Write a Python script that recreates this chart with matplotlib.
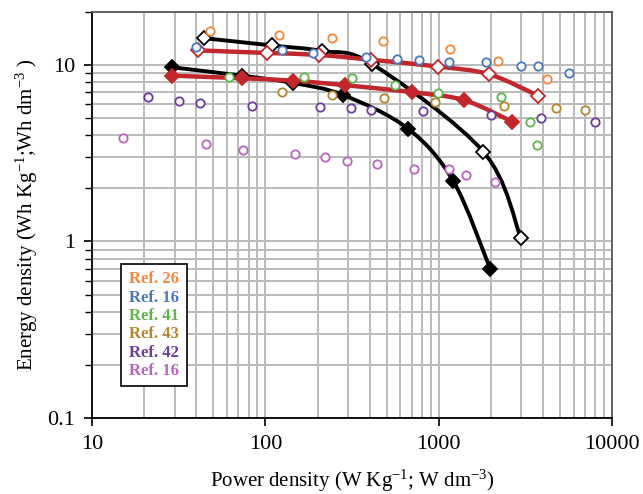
import matplotlib
matplotlib.use("Agg")
import matplotlib.pyplot as plt
import numpy as np
from matplotlib.path import Path
from matplotlib.patches import PathPatch, Rectangle
from matplotlib.ticker import LogLocator, NullFormatter, FixedLocator, FixedFormatter

plt.rcParams['font.family'] = ['Liberation Serif', 'DejaVu Serif']
plt.rcParams['mathtext.fontset'] = 'custom'
plt.rcParams['mathtext.rm'] = 'Liberation Serif'
plt.rcParams['mathtext.default'] = 'regular'

# device curves (power density W/kg, energy density Wh/kg)
black_open_x = [44, 109, 213, 414, 1810, 2980]
black_open_y = [14.2, 12.9, 12.0, 10.1, 3.22, 1.04]

red_open_x = [41, 102, 204, 407, 988, 1950, 3730]
red_open_y = [12.1, 11.7, 11.4, 10.7, 9.8, 8.86, 6.71]

black_fill_x = [29, 73, 145, 280, 666, 1216, 1980]
black_fill_y = [9.7, 8.7, 7.9, 6.77, 4.35, 2.19, 0.70]

red_fill_x = [29, 73, 145, 288, 705, 1400, 2640]
red_fill_y = [8.7, 8.41, 8.15, 7.68, 7.01, 6.32, 4.78]

# literature data
ref26_x = [48, 120, 242, 476, 1168, 2210, 4220]
ref26_y = [15.5, 14.8, 14.2, 13.7, 12.3, 10.6, 8.3]

ref16a_x = [39.6, 125, 188, 380, 578, 770, 1148, 1885, 2990, 3730, 5630]
ref16a_y = [12.7, 12.1, 11.7, 11.05, 10.8, 10.7, 10.45, 10.45, 9.87, 9.87, 8.98]

ref41_x = [62, 168, 314, 560, 988, 2280, 3340, 3680]
ref41_y = [8.5, 8.6, 8.4, 7.74, 6.97, 6.6, 4.76, 3.52]

ref43_x = [125, 242, 484, 957, 2385, 4740, 6970]
ref43_y = [7.07, 6.75, 6.51, 6.2, 5.89, 5.72, 5.57]

ref42_x = [21, 31.8, 42, 83.5, 207, 311, 406, 813, 2014, 3914, 7990]
ref42_y = [6.6, 6.22, 6.08, 5.85, 5.8, 5.68, 5.57, 5.48, 5.2, 5.0, 4.76]

ref16b_x = [15.2, 45.5, 74.3, 148, 221, 295, 443, 718, 1153, 1434, 2107]
ref16b_y = [3.85, 3.58, 3.28, 3.15, 3.01, 2.87, 2.76, 2.56, 2.57, 2.38, 2.16]

ref_labels = ['Ref. 26', 'Ref. 16', 'Ref. 41', 'Ref. 43', 'Ref. 42', 'Ref. 16']
ref_colors = ['#F4873C', '#4A78BE', '#62B54B', '#B5862F', '#6A3D9E', '#B865BE']
ref_x = [ref26_x, ref16a_x, ref41_x, ref43_x, ref42_x, ref16b_x]
ref_y = [ref26_y, ref16a_y, ref41_y, ref43_y, ref42_y, ref16b_y]


def smooth_path(xs, ys):
    # cubic bezier through the points, built in log-log space
    pts = np.column_stack([np.log10(xs), np.log10(ys)])
    n = len(pts)
    verts = [pts[0]]
    codes = [Path.MOVETO]
    for i in range(n - 1):
        p0 = pts[i - 1] if i > 0 else pts[i]
        p1 = pts[i]
        p2 = pts[i + 1]
        p3 = pts[i + 2] if i + 2 < n else pts[i + 1]
        verts += [p1 + (p2 - p0) / 6, p2 - (p3 - p1) / 6, p2]
        codes += [Path.CURVE4] * 3
    return Path(10 ** np.array(verts), codes)


fig = plt.figure(figsize=(6.43, 4.94), dpi=100)
ax = fig.add_axes([0.143, 0.154, 0.809, 0.822])
ax.set_xscale('log')
ax.set_yscale('log')
ax.set_xlim(10, 10000)
ax.set_ylim(0.1, 20)

grid_c = '#BBBBBB'
ax.grid(True, which='both', color=grid_c, linewidth=1.4, zorder=0)
ax.set_axisbelow(True)

curves = [
    (black_open_x, black_open_y, 'black', 'white', 2.8),
    (red_open_x, red_open_y, '#C0282D', 'white', 3.2),
    (black_fill_x, black_fill_y, 'black', 'black', 2.8),
    (red_fill_x, red_fill_y, '#C0282D', '#C0282D', 3.2),
]
for xs, ys, col, face, lw in curves:
    ax.add_patch(PathPatch(smooth_path(xs, ys), fill=False, edgecolor=col,
                           linewidth=lw, capstyle='round', zorder=3))
    ax.plot(xs, ys, linestyle='none', marker='D', markersize=7,
            markerfacecolor=face, markeredgecolor=col, markeredgewidth=1.3,
            zorder=4)

for xs, ys, col in zip(ref_x, ref_y, ref_colors):
    ax.plot(xs, ys, linestyle='none', marker='o', markersize=6,
            markerfacecolor='white', markeredgecolor=col, markeredgewidth=1.3,
            zorder=5)

# legend box with coloured labels
ax.add_patch(Rectangle((0.055, 0.079), 0.128, 0.300, transform=ax.transAxes,
                       facecolor='white', edgecolor='black', linewidth=1.2,
                       zorder=6))
for i, (lab, col) in enumerate(zip(ref_labels, ref_colors)):
    ax.text(0.12, 0.3416 - i * 0.0452, lab, transform=ax.transAxes,
            ha='center', va='center', color=col, fontsize=12,
            fontweight='bold', zorder=7)

ax.xaxis.set_major_locator(FixedLocator([10, 100, 1000, 10000]))
ax.xaxis.set_major_formatter(FixedFormatter(['10', '100', '1000', '10000']))
ax.yaxis.set_major_locator(FixedLocator([0.1, 1, 10]))
ax.yaxis.set_major_formatter(FixedFormatter(['0.1', '1', '10']))
ax.xaxis.set_minor_locator(LogLocator(base=10, subs=np.arange(2, 10), numticks=20))
ax.yaxis.set_minor_locator(LogLocator(base=10, subs=np.arange(2, 10), numticks=20))
ax.xaxis.set_minor_formatter(NullFormatter())
ax.yaxis.set_minor_formatter(NullFormatter())
ax.tick_params(axis='both', which='major', direction='out', length=6,
               width=1.2, labelsize=16, pad=6)
ax.tick_params(axis='y', which='minor', direction='out', length=5, width=1.0)
ax.tick_params(axis='x', which='minor', length=0)

for side in ['left', 'bottom']:
    ax.spines[side].set_color('black')
    ax.spines[side].set_linewidth(1.3)
for side in ['top', 'right']:
    ax.spines[side].set_color('#595959')
    ax.spines[side].set_linewidth(1.3)

ax.set_xlabel('Power density (W Kg$^{-1}$; W dm$^{-3}$)', fontsize=15, labelpad=10)
ax.set_ylabel('Energy density (Wh Kg$^{-1}$;Wh dm$^{-3}$ )', fontsize=15, labelpad=5)

fig.savefig('out.png', dpi=100)
